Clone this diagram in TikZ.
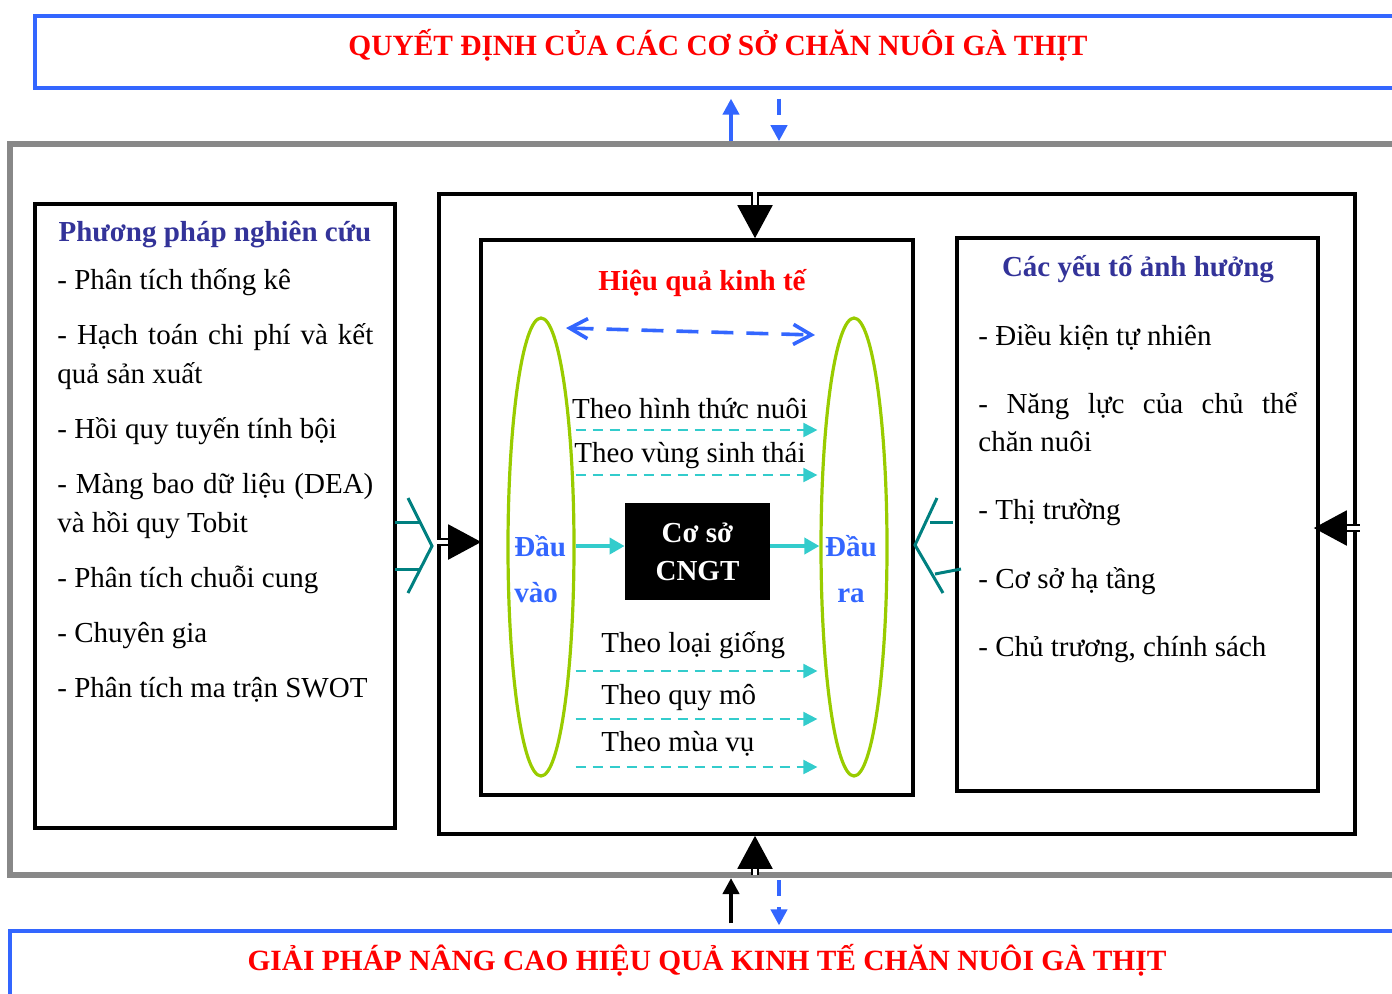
\documentclass[tikz,border=0pt]{standalone}
\usepackage{fontspec}
\setmainfont{Liberation Serif}
\usepackage{tikz}
\usetikzlibrary{arrows.meta,positioning,calc,shapes.geometric}
\definecolor{hdblue}{HTML}{3366FF}
\definecolor{frgray}{HTML}{888888}
\definecolor{ttblue}{HTML}{333399}
\definecolor{brteal}{HTML}{008080}
\definecolor{arcyan}{HTML}{33CCCC}
\definecolor{elgreen}{HTML}{99CC00}
\newcommand{\nohyph}{\hyphenpenalty=10000\relax\exhyphenpenalty=10000\relax}
\tikzset{
  banner/.style={rectangle, draw=hdblue, line width=1.6pt, inner sep=0pt},
  bannertxt/.style={text=red, font=\fontsize{14.7}{17}\selectfont\bfseries, inner sep=0pt},
  frame/.style={rectangle, draw=black, line width=1.8pt, inner sep=0pt},
  ttl/.style={font=\fontsize{14.5}{17}\selectfont\bfseries, inner sep=0pt},
  lefttxt/.style={align=justify, inner sep=0pt, anchor=base west, font=\fontsize{14.5}{19.5}\selectfont},
  righttxt/.style={align=justify, inner sep=0pt, anchor=base west, font=\fontsize{14.5}{18.75}\selectfont},
  oval/.style={ellipse, draw=elgreen, line width=1.6pt, inner sep=0pt,
               minimum width=33pt, minimum height=229pt},
  smallarr/.style={-{Triangle[length=8pt,width=8pt]}, line width=2pt, hdblue},
  bigarr/.style={line width=1pt, double, double distance=2pt, -{Triangle[length=16.5pt,width=17.5pt]}},
  flowarr/.style={-{Triangle[length=7pt,width=7pt]}, line width=1pt, arcyan, dash pattern=on 5pt off 3.5pt},
  coreline/.style={-{Triangle[length=7.5pt,width=8pt]}, line width=2pt, arcyan},
  bracket/.style={brteal, line width=1.5pt},
  inlbl/.style={inner sep=0pt},
}
\begin{document}
\begin{tikzpicture}[x=0.5pt, y=-0.5pt, font=\fontsize{14.5}{17}\selectfont]
\useasboundingbox (0,0) rectangle (1392,993);
% banners top and bottom
\node[banner, minimum width=683.5pt, minimum height=36pt] (decide) at (718.5,52) {};
\node[bannertxt] (decidetxt) at (718,45) {QUYẾT ĐỊNH CỦA CÁC CƠ SỞ CHĂN NUÔI GÀ THỊT};
\node[banner, minimum width=697pt, minimum height=34pt] (solve) at (707,965) {};
\node[bannertxt] (solvetxt) at (707,960) {GIẢI PHÁP NÂNG CAO HIỆU QUẢ KINH TẾ CHĂN NUÔI GÀ THỊT};
% gray frame
\draw[frgray, line width=2.8pt] (1400,144) -- (10,144) -- (10,875) -- (1400,875);
\coordinate (gtl) at (731,144); \coordinate (gtr) at (779,144);
\coordinate (gbl) at (731,875); \coordinate (gbr) at (779,875);
\coordinate (gbm) at (755,875);
\draw[smallarr, shorten <=1.4pt, shorten >=4.5pt] (gtl) -- (gtl |- decide.south);
\draw[smallarr, dash pattern=on 8pt off 5.5pt, shorten <=4.5pt, shorten >=1.4pt] (gtr |- decide.south) -- (gtr);
\draw[smallarr, black, shorten <=3pt, shorten >=1.5pt] (gbl |- solve.north) -- (gbl);
\draw[smallarr, dash pattern=on 8pt off 5.5pt, shorten <=2.5pt, shorten >=2pt] (gbr) -- (gbr |- solve.north);
% boxes
\node[frame, minimum width=180pt, minimum height=312pt] (methods) at (215,516) {};
\node[frame, minimum width=458pt, minimum height=320pt] (midbox) at (897,514) {};
\node[frame, minimum width=216pt, minimum height=277.5pt] (inner) at (697,517.5) {};
\node[frame, minimum width=180.5pt, minimum height=276.5pt] (factors) at (1137.5,514.5) {};
% left list
\node[ttl, text=ttblue] (methodsttl) at (215,234) {Phương pháp nghiên cứu};
\node[lefttxt, text width=158pt] (methodslist) at (57,289) {\parskip=8pt\relax\nohyph
- Phân tích thống kê\par
- Hạch toán chi phí và kết quả sản xuất\par
- Hồi quy tuyến tính bội\par
- Màng bao dữ liệu (DEA) và hồi quy Tobit\par
- Phân tích chuỗi cung\par
- Chuyên gia\par
- Phân tích ma trận SWOT};
% right list
\node[ttl, text=ttblue] (factorsttl) at (1138,269) {Các yếu tố ảnh hưởng};
\node[righttxt, text width=159.5pt] (factorslist) at (978,345) {\parskip=15.5pt\relax\nohyph
- Điều kiện tự nhiên\par
- Năng lực của chủ thể\linebreak chăn nuôi\par
- Thị trường\par
- Cơ sở hạ tầng\par
- Chủ trương, chính sách};
% inner box
\node[ttl, text=red] (effttl) at (702,283) {Hiệu quả kinh tế};
\node[oval] (inell) at (541,547) {};
\node[oval] (outell) at (854,547) {};
\node[ttl, text=hdblue, align=left, anchor=west, font=\fontsize{14.5}{23}\selectfont\bfseries] (inlbl) at (514,569) {Đầu\\vào};
\node[ttl, text=hdblue, align=center, font=\fontsize{14.5}{23}\selectfont\bfseries] (outlbl) at (851,569) {Đầu\\ra};
\node[rectangle, fill=black, text=white, align=center, inner sep=0pt, minimum width=72.5pt, minimum height=48.5pt,
      font=\fontsize{14.5}{19}\selectfont\bfseries] (core) at (697.5,551.5) {Cơ sở\\CNGT};
\coordinate (dl) at (566,328); \coordinate (dr) at (815,335);
\draw[hdblue, line width=1.8pt, dash pattern=on 11pt off 6.5pt, {Straight Barb[length=9pt,width=10pt]}-{Straight Barb[length=9pt,width=10pt]}] (dl) -- (dr);
\node[inlbl] (t1) at (690,409) {Theo hình thức nuôi};
\node[inlbl] (t2) at (690,456) {Theo vùng sinh thái};
\node[inlbl, anchor=west] (t3) at (601,645) {Theo loại giống};
\node[inlbl, anchor=west] (t4) at (601,698) {Theo quy mô};
\node[inlbl, anchor=west] (t5) at (601,744) {Theo mùa vụ};
\foreach \y in {430,475,671,719,767}
  \draw[flowarr, shorten >=1pt] (inell.east |- 0,\y) -- (outell.west |- 0,\y);
\coordinate (ay) at (0,546);
\draw[coreline] (inell.east |- ay) -- (core.west |- ay);
\draw[coreline] (core.east |- ay) -- (outell.west |- ay);
% big arrows
\coordinate (bx) at (755,0);
\coordinate (ly) at (0,542); \coordinate (ry) at (0,528);
\draw[bigarr] (bx |- midbox.north) -- (bx |- inner.north);
\draw[bigarr] (bx |- gbm) -- (bx |- midbox.south);
\draw[bigarr, shorten >=-1pt] (midbox.west |- ly) -- (inner.west |- ly);
\draw[bigarr, shorten <=-1.5pt, shorten >=-3pt] (midbox.east |- ry) -- (factors.east |- ry);
% teal brackets
\draw[bracket] (408,498) -- (432,546) -- (408,593);
\draw[bracket] (395,522) -- (420,522);
\draw[bracket] (395,569) -- (420,569);
\draw[bracket] (937,498) -- (915,545) -- (943,593);
\draw[bracket] (930,522) -- (953,522);
\draw[bracket] (935,574) -- (961,569);
\end{tikzpicture}
\end{document}
